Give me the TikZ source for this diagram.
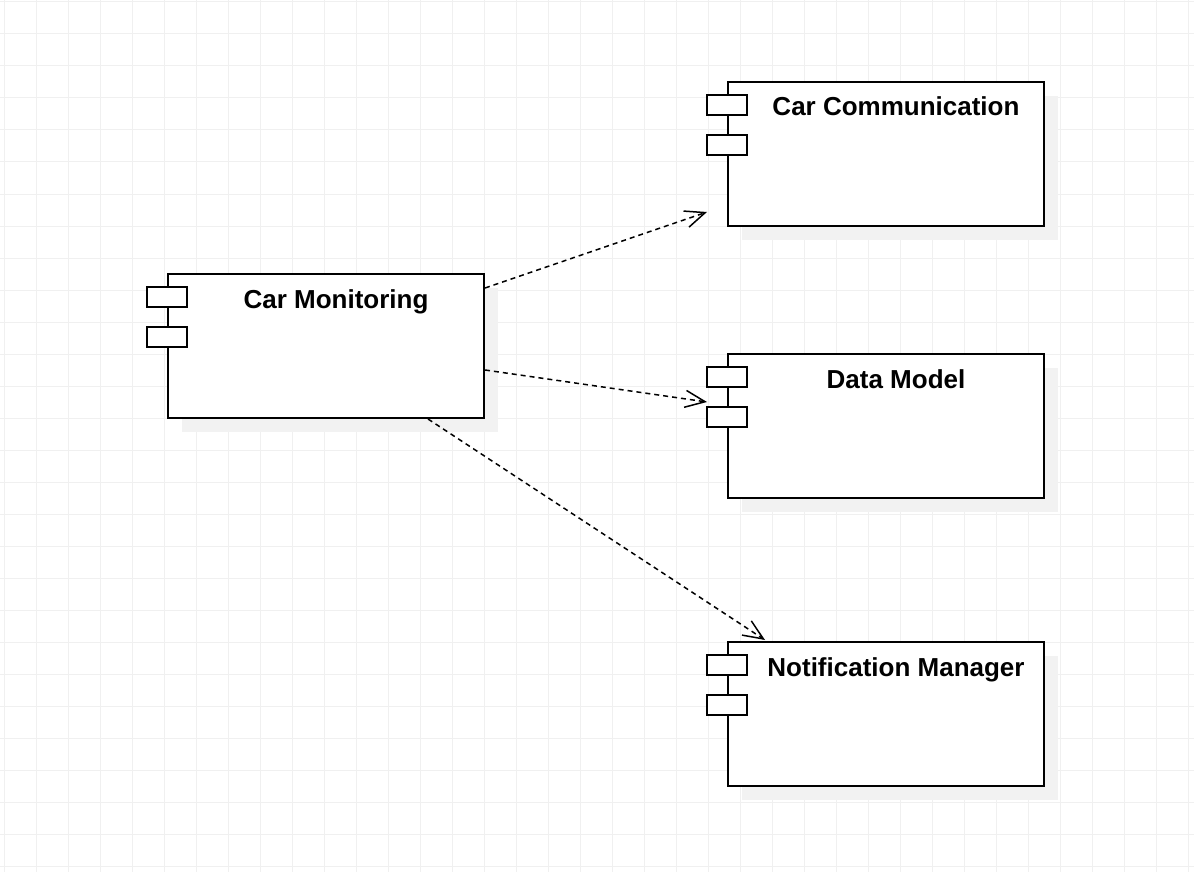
\documentclass[tikz,border=0pt]{standalone}
\usepackage{fontspec}
\setmainfont{Liberation Sans}
\usetikzlibrary{arrows.meta,calc,shadows}
\definecolor{gridgray}{gray}{0.94}
\definecolor{shadowgray}{gray}{0.95}
\tikzset{
  comp/.style={draw, line width=2pt, fill=white, minimum width=316pt, minimum height=144pt, inner sep=0pt,
    drop shadow={shadow xshift=14pt, shadow yshift=-14pt, fill=shadowgray, opacity=1}},
  comptitle/.style={font=\bfseries\fontsize{26}{30}\selectfont, anchor=base, xshift=10pt, yshift=-35pt, inner sep=0pt},
  port/.style={draw, line width=2pt, fill=white, minimum width=40pt, minimum height=20pt, inner sep=0pt},
  dep/.style={line width=1.5pt, dash pattern=on 5pt off 4pt, -{Straight Barb[length=20pt,width=17pt,line width=1.5pt]}}
}
\begin{document}
\begin{tikzpicture}[x=1pt,y=-1pt]
\useasboundingbox (0,0) rectangle (1194,872);
\fill[white] (0,0) rectangle (1194,872);
\foreach \i in {0,...,37} {\draw[gridgray, line width=1pt] ({4+32*\i},0) -- ({4+32*\i},872);}
\foreach \j in {0,...,27} {\draw[gridgray, line width=1pt] (0,{2+32*\j}) -- (1194,{2+32*\j});}

\node[comp, label={[comptitle]north:Car Monitoring}] (cm) at (326,346) {};
\node[comp, label={[comptitle]north:Car Communication}] (cc) at (886,154) {};
\node[comp, label={[comptitle]north:Data Model}] (dm) at (886,426) {};
\node[comp, label={[comptitle]north:Notification Manager}] (nm) at (886,714) {};

\foreach \b in {cm,cc,dm,nm} {
  \node[port] (\b p1) at ($(\b.north west)+(0,24)$) {};
  \node[port] (\b p2) at ($(\b.north west)+(0,64)$) {};
}

\coordinate (s1) at ($(cm.north east)+(0,15)$);
\coordinate (e1) at ($(cc.south west)+(-20,-15)$);
\coordinate (s2) at ($(cm.east)+(0,24)$);
\coordinate (e2) at ($(dm.west)+(-20,-24)$);
\coordinate (s3) at ($(cm.south)+(102,0)$);
\coordinate (e3) at ($(nm.north)+(-121,-1)$);
\draw[dep] (s1) -- (e1);
\draw[dep] (s2) -- (e2);
\draw[dep] (s3) -- (e3);
\end{tikzpicture}
\end{document}
